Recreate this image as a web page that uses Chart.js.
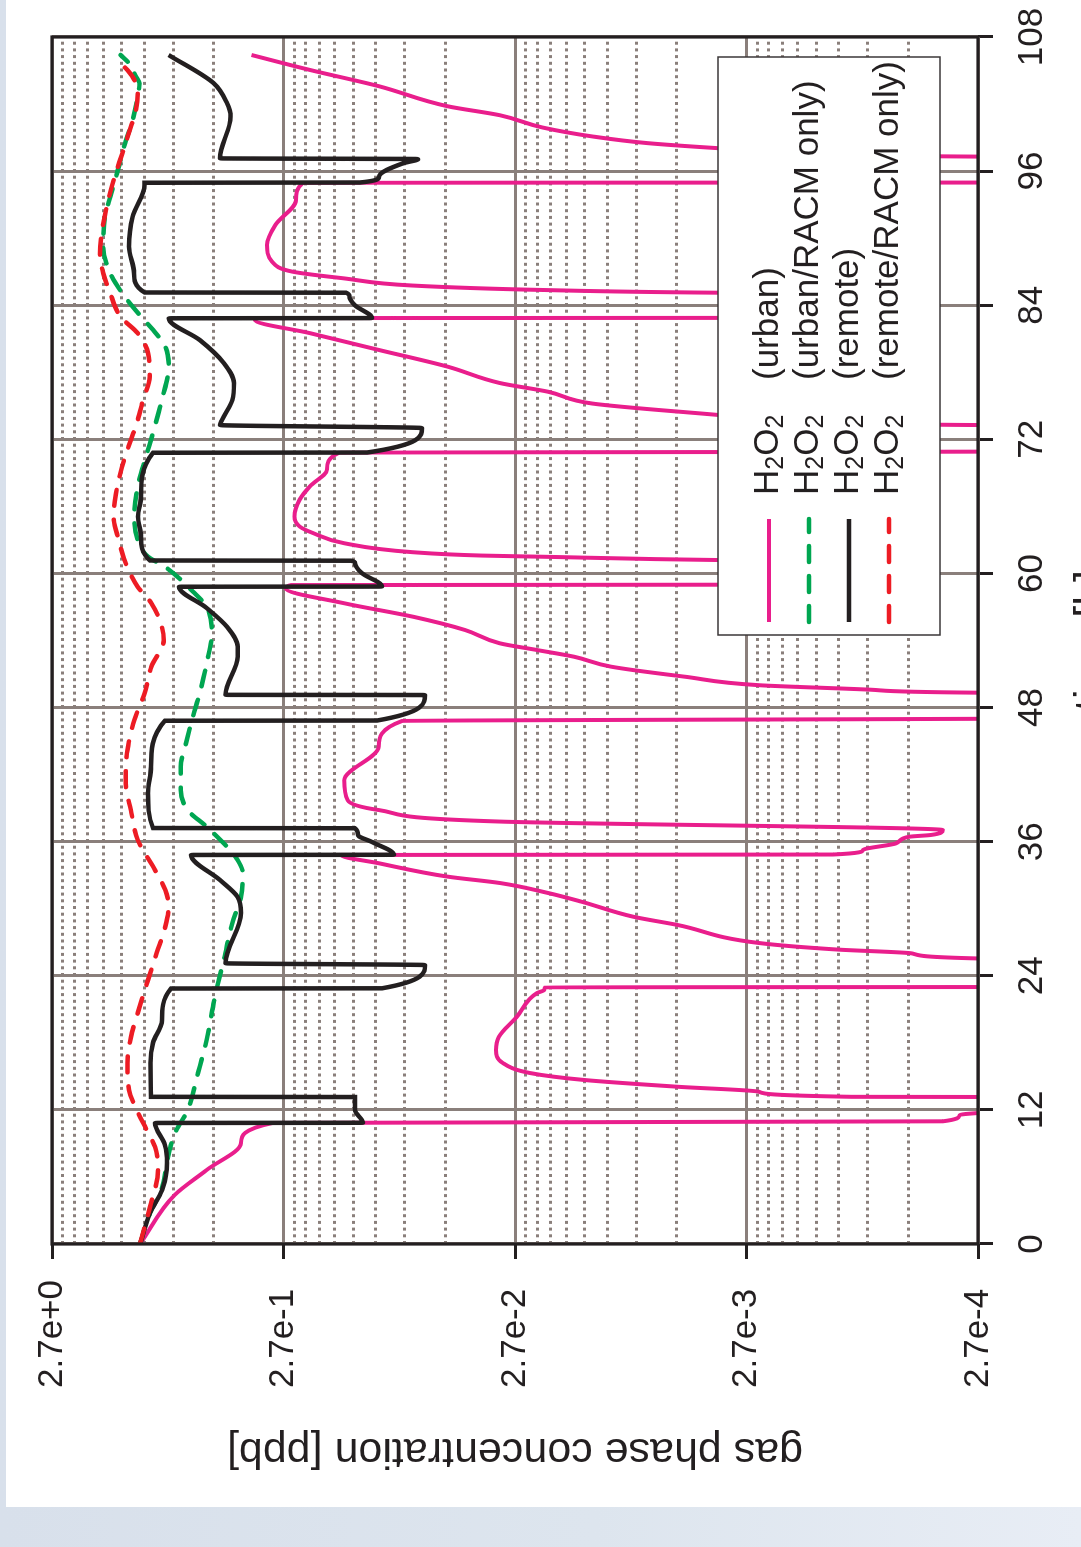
<!DOCTYPE html>
<html>
<head>
<meta charset="utf-8">
<script src="https://cdn.jsdelivr.net/npm/chart.js@4.4.1/dist/chart.umd.min.js"></script>
<style>
  html, body { margin: 0; width: 1081px; height: 1547px; overflow: hidden; }
  body { position: relative; background: linear-gradient(to right, #d8e0eb 0%, #dde5ee 55%, #e8edf5 100%); }
  /* chart is drawn upright, then turned a quarter to the left like the printed page */
  #sheet { position: absolute; left: 0; top: 0; width: 1507px; height: 1130px; background: #fff;
           transform-origin: 0 0; transform: translate(6px, 1507px) rotate(-90deg); }
  canvas { display: block; }
</style>
</head>
<body>
<div id="sheet"><canvas id="conc-chart" width="1507" height="1130"></canvas></div>
<script>
// ---- data: [hour, ppb] ----
const hourTicks = [0, 12, 24, 36, 48, 60, 72, 84, 96, 108];
const concTicks = [2.7e-4, 2.7e-3, 2.7e-2, 2.7e-1, 2.7];
const concTickLabels = ["2.7e-4", "2.7e-3", "2.7e-2", "2.7e-1", "2.7e+0"];
const minorSteps = [2, 3, 4, 5, 6, 7, 8, 9];

const species = ["H", "2", "O", "2"];
const caseNames = ["(urban)", "(urban/RACM only)", "(remote)", "(remote/RACM only)"];

const urban = [
  [0, 1.125], [4.38, 0.798], [6.62, 0.58], [9.04, 0.412], [10.83, 0.301],
  [10.98, 3.82e-4], [11.54, 3.24e-4], [11.72, 2.7e-4], [12.0, 1.5e-4], [13.15, 1.5e-4],
  [13.17, 9.45e-4], [13.62, 2.38e-3], [14.07, 5.34e-3], [14.67, 0.01346], [15.3, 0.02326],
  [16.2, 0.0305], [17.36, 0.0326], [18.52, 0.0317], [20.34, 0.0265], [22.46, 0.0217],
  [22.73, 0.0202], [22.97, 0.02],
  [23.0, 1.5e-4], [25.53, 1.5e-4],
  [25.55, 2.7e-4], [26.0, 5.2e-4], [26.35, 1.1e-3], [26.93, 2.38e-3], [28.54, 5.34e-3],
  [29.29, 8.35e-3], [30.63, 0.01393], [31.41, 0.01944], [32.3, 0.03136], [32.87, 0.0527],
  [34.07, 0.1047], [34.81, 0.1524],
  [34.85, 1.14e-3], [35.25, 8.47e-4], [35.85, 6.1e-4], [36.44, 5.36e-4], [36.6, 4.31e-4], [37.04, 3.83e-4],
  [37.8, 0.0314], [38.83, 0.1047], [39.7, 0.1425], [41.5, 0.1474], [44.5, 0.1047], [46.8, 0.0831],
  [47.04, 1.5e-4], [49.31, 1.5e-4],
  [49.33, 2.7e-4], [49.6, 7.9e-4], [50.0, 2.38e-3], [50.76, 4.98e-3], [51.66, 0.01039],
  [52.55, 0.01501], [53.15, 0.0217], [53.75, 0.0314], [54.94, 0.0444],
  [56.13, 0.0745], [57.33, 0.1474], [58.67, 0.2639], [58.96, 0.25],
  [59.0, 1.2e-3], [60.0, 8.0e-4], [61.1, 1.0e-3],
  [61.2, 3.57e-3], [61.5, 0.02106], [61.6, 0.0375], [61.9, 0.0745], [62.7, 0.1474], [63.6, 0.2006],
  [64.2, 0.23], [65.1, 0.2422], [66.6, 0.23], [67.8, 0.2075], [69.3, 0.1752], [70.8, 0.1555],
  [70.92, 1.5e-4], [73.26, 1.5e-4],
  [73.28, 2.7e-4], [73.5, 1.0e-3], [73.8, 2.2e-3], [74.18, 3.57e-3], [75.2, 0.01248], [76.26, 0.01944],
  [77.04, 0.0314], [78.5, 0.0527], [80.0, 0.1047], [81.5, 0.2075], [82.7, 0.359], [82.85, 0.35],
  [82.87, 1.2e-3], [84.0, 7.0e-4], [85.05, 9.0e-4],
  [85.12, 3.57e-3], [85.37, 0.02106], [85.76, 0.0745], [86.4, 0.1474], [87.0, 0.2464], [87.9, 0.3026],
  [89.4, 0.3183], [91.2, 0.2924], [93.4, 0.2384], [94.96, 0.2225],
  [94.98, 1.5e-4], [97.28, 1.5e-4],
  [97.3, 2.7e-4], [97.5, 1.0e-3], [97.8, 2.2e-3], [98.05, 3.57e-3], [98.5, 7.19e-3], [99.1, 0.01248],
  [99.9, 0.0205], [101.0, 0.0314], [101.8, 0.0527], [103.6, 0.1047], [105.05, 0.2075], [106.39, 0.3715],
];

const urbanRacm = [
  [0, 1.125], [2.77, 1.019], [4.83, 0.91], [7.7, 0.854], [9.93, 0.794], [12.0, 0.7], [15.3, 0.632],
  [18.25, 0.58], [22.13, 0.534], [25.41, 0.489], [28.72, 0.449], [31.08, 0.412], [33.2, 0.405],
  [34.36, 0.426], [35.55, 0.474], [37.34, 0.58], [38.83, 0.7], [40.62, 0.75], [42.71, 0.75],
  [44.8, 0.712], [47.18, 0.665], [49.28, 0.621], [51.96, 0.58], [54.64, 0.551], [57.02, 0.58],
  [58.37, 0.664], [60.6, 0.878], [61.5, 1.039], [63.0, 1.151], [65.08, 1.19], [67.76, 1.151],
  [70.45, 1.06], [72.57, 0.989], [75.52, 0.906], [78.5, 0.846], [80.3, 0.875], [81.78, 0.987],
  [82.97, 1.112], [85.07, 1.342], [86.86, 1.513], [89.24, 1.621], [91.92, 1.594], [93.71, 1.513],
  [95.8, 1.414], [98.18, 1.319], [100.57, 1.211], [102.66, 1.151], [103.86, 1.131], [104.45, 1.171],
  [105.65, 1.255], [106.39, 1.365],
];

const remote = [
  [0, 1.125], [2.77, 1.019], [4.83, 0.904], [7.25, 0.86], [8.86, 0.878], [10.83, 0.969],
  [10.85, 0.1225], [12.0, 0.1326], [13.15, 0.1326],
  [13.17, 1.009], [16.2, 1.014], [18.0, 0.989], [20.0, 0.904], [22.86, 0.827],
  [22.88, 0.1013], [24.96, 0.0661],
  [25.12, 0.481], [29.62, 0.412], [31.05, 0.426], [32.57, 0.508], [34.81, 0.677],
  [34.83, 0.09], [35.97, 0.1119], [36.6, 0.1287], [37.2, 0.1326],
  [37.22, 0.989], [40.35, 1.039], [42.71, 1.009], [46.82, 0.878],
  [46.84, 0.1065], [49.12, 0.0661],
  [49.14, 0.481], [52.55, 0.426], [53.44, 0.426], [55.23, 0.474], [56.91, 0.58], [58.81, 0.763],
  [58.83, 0.1013], [60.04, 0.1241], [60.93, 0.1326], [61.14, 0.138],
  [61.16, 1.019], [63.29, 1.114], [65.08, 1.148], [66.87, 1.114], [70.8, 0.989],
  [70.82, 0.1176], [73.01, 0.0681],
  [73.28, 0.508], [73.73, 0.498], [75.52, 0.449], [77.04, 0.442], [78.83, 0.489], [80.89, 0.621], [82.83, 0.846],
  [82.85, 0.1119], [84.02, 0.133], [84.76, 0.14], [85.12, 0.145],
  [85.14, 1.075], [86.88, 1.194], [89.24, 1.255], [91.92, 1.211], [94.76, 1.075], [94.96, 1.075],
  [94.98, 0.1261], [95.5, 0.1044], [96.7, 0.0823], [97.08, 0.0708],
  [97.14, 0.508], [100.87, 0.457], [102.09, 0.474], [103.88, 0.542], [106.39, 0.846],
];

const remoteRacm = [
  [0, 1.125], [3.31, 1.019], [6.62, 0.94], [8.68, 0.969], [10.2, 1.053], [12.0, 1.163], [13.78, 1.255],
  [16.2, 1.275], [18.52, 1.231], [20.67, 1.151], [23.62, 1.039], [26.04, 0.953], [28.39, 0.875],
  [30.18, 0.846], [31.67, 0.875], [33.46, 0.969], [36.15, 1.151], [38.83, 1.232], [41.22, 1.297],
  [44.2, 1.275], [46.89, 1.19], [49.28, 1.075], [51.66, 1.004], [54.04, 0.889], [55.23, 0.906],
  [57.33, 1.004], [58.81, 1.151], [60.91, 1.297], [62.99, 1.39], [65.08, 1.463], [66.87, 1.437],
  [68.36, 1.39], [70.15, 1.319], [71.94, 1.232], [73.73, 1.151], [75.52, 1.092], [77.6, 1.021],
  [79.73, 1.039], [81.5, 1.151], [82.97, 1.365], [85.07, 1.513], [86.86, 1.621], [88.65, 1.676],
  [90.43, 1.648], [92.81, 1.567], [95.2, 1.463], [97.59, 1.342], [99.97, 1.232], [101.47, 1.171],
  [102.96, 1.151], [104.15, 1.19], [105.04, 1.275], [105.64, 1.365],
];

// ---- look ----
const INK = "#231f20";
const GRID = "#8a7f7b";
const FONT = '"Liberation Sans", Arial, Helvetica, sans-serif';
const CANVAS_H = 1130;
const PLOT = { left: 263, top: 46, right: 1470, bottom: 972 };
const LABEL_START = 119;

Chart.defaults.font.family = FONT;
Chart.defaults.color = INK;

function toPoints(rows) {
  return rows.map(([hour, ppb]) => ({ x: hour, y: ppb }));
}

function lineSet(label, rows, color, width, dashed, order) {
  return {
    label,
    data: toPoints(rows),
    borderColor: color,
    borderWidth: width,
    borderDash: dashed ? [16, 14] : [],
    borderCapStyle: dashed ? "round" : "butt",
    pointRadius: 0,
    fill: false,
    cubicInterpolationMode: "monotone",
    clip: 0,
    order,
  };
}

const minorValues = [];
concTicks.slice(0, -1).forEach((base) => {
  minorSteps.forEach((k) => minorValues.push(base * k));
});

const plotFrame = {
  id: "plotFrame",
  afterDatasetsDraw(chart) {
    const { ctx, chartArea: a } = chart;
    ctx.save();
    ctx.strokeStyle = INK;
    ctx.lineWidth = 3.2;
    ctx.strokeRect(a.left, a.top, a.right - a.left, a.bottom - a.top);
    ctx.restore();
  },
};

// boxed key inside the plot, like the original
const boxedKey = {
  id: "boxedKey",
  afterDraw(chart) {
    const { ctx, chartArea: a } = chart;
    const right = a.right - 20;
    const bottom = a.bottom - 38;
    const left = right - 578;
    const top = bottom - 222;

    ctx.save();
    ctx.fillStyle = "#fff";
    ctx.fillRect(left, top, right - left, bottom - top);
    ctx.strokeStyle = "#3b3738";
    ctx.lineWidth = 1.5;
    ctx.strokeRect(left, top, right - left, bottom - top);

    chart.data.datasets.forEach((ds, i) => {
      const rowY = top + 51 + 40 * i;
      ctx.beginPath();
      ctx.setLineDash(ds.borderDash);
      ctx.lineCap = ds.borderCapStyle;
      ctx.strokeStyle = ds.borderColor;
      ctx.lineWidth = ds.borderWidth;
      ctx.moveTo(left + 13, rowY);
      ctx.lineTo(left + 116, rowY);
      ctx.stroke();
      ctx.setLineDash([]);

      const base = rowY + 9;
      let x = left + 140;
      ctx.fillStyle = INK;
      ctx.textBaseline = "alphabetic";
      ctx.textAlign = "left";
      species.forEach((part, j) => {
        const sub = j % 2 === 1;
        ctx.font = (sub ? "25px " : "35px ") + FONT;
        ctx.fillText(part, x, sub ? base + 5 : base);
        x += ctx.measureText(part).width;
      });
      ctx.font = "35px " + FONT;
      ctx.fillText(caseNames[i], left + 255, base);
    });
    ctx.restore();
  },
};

new Chart(document.getElementById("conc-chart"), {
  type: "line",
  data: {
    datasets: [
      lineSet("H2O2 (urban)", urban, "#e91e8c", 4, false, 4),
      lineSet("H2O2 (urban/RACM only)", urbanRacm, "#00a651", 4.5, true, 3),
      lineSet("H2O2 (remote)", remote, INK, 4.5, false, 2),
      lineSet("H2O2 (remote/RACM only)", remoteRacm, "#ed1c24", 4.5, true, 1),
    ],
  },
  options: {
    responsive: false,
    animation: false,
    devicePixelRatio: 1,
    layout: {
      padding: { left: LABEL_START, top: PLOT.top, right: 1507 - PLOT.right, bottom: 0 },
    },
    plugins: {
      legend: { display: false },
      tooltip: { enabled: false },
    },
    scales: {
      x: {
        type: "linear",
        position: "bottom",
        min: 0,
        max: 108,
        afterBuildTicks: (axis) => {
          axis.ticks = hourTicks.map((value) => ({ value }));
        },
        afterFit: (axis) => {
          axis.height = CANVAS_H - PLOT.bottom;
        },
        grid: { color: GRID, lineWidth: 3, tickColor: INK, tickWidth: 3, tickLength: 15 },
        border: { display: false },
        // label spacing comes from the line height so the end label does not eat into the plot width
        ticks: { color: INK, font: { size: 35, lineHeight: 2.26 }, padding: 0, maxRotation: 0, autoSkip: false },
        title: {
          display: true,
          text: "time [h]",
          color: INK,
          font: { size: 43 },
          padding: { top: 0, bottom: 18 },
        },
      },
      y: {
        type: "logarithmic",
        position: "left",
        min: concTicks[0],
        max: concTicks[concTicks.length - 1],
        afterBuildTicks: (axis) => {
          axis.ticks = concTicks.map((value) => ({ value }));
        },
        afterFit: (axis) => {
          axis.width = PLOT.left - LABEL_START;
        },
        grid: { color: GRID, lineWidth: 3, tickColor: INK, tickWidth: 3, tickLength: 15 },
        border: { display: false },
        ticks: {
          color: INK,
          font: { size: 35 },
          crossAlign: "far",
          callback: (value, index) => concTickLabels[index],
        },
        title: {
          display: true,
          text: "gas phase concentration [ppb]",
          color: INK,
          font: { size: 43 },
          padding: { top: -89, bottom: 0 },
        },
      },
      yMinor: {
        type: "logarithmic",
        position: "left",
        min: concTicks[0],
        max: concTicks[concTicks.length - 1],
        afterBuildTicks: (axis) => {
          axis.ticks = minorValues.map((value) => ({ value }));
        },
        afterFit: (axis) => {
          axis.width = 0;
        },
        grid: { color: GRID, lineWidth: 3, drawTicks: false, borderDash: [3, 3.7] },
        border: { display: false, dash: [3, 3.7] },
        ticks: { display: false },
      },
    },
  },
  plugins: [plotFrame, boxedKey],
});
</script>
</body>
</html>
